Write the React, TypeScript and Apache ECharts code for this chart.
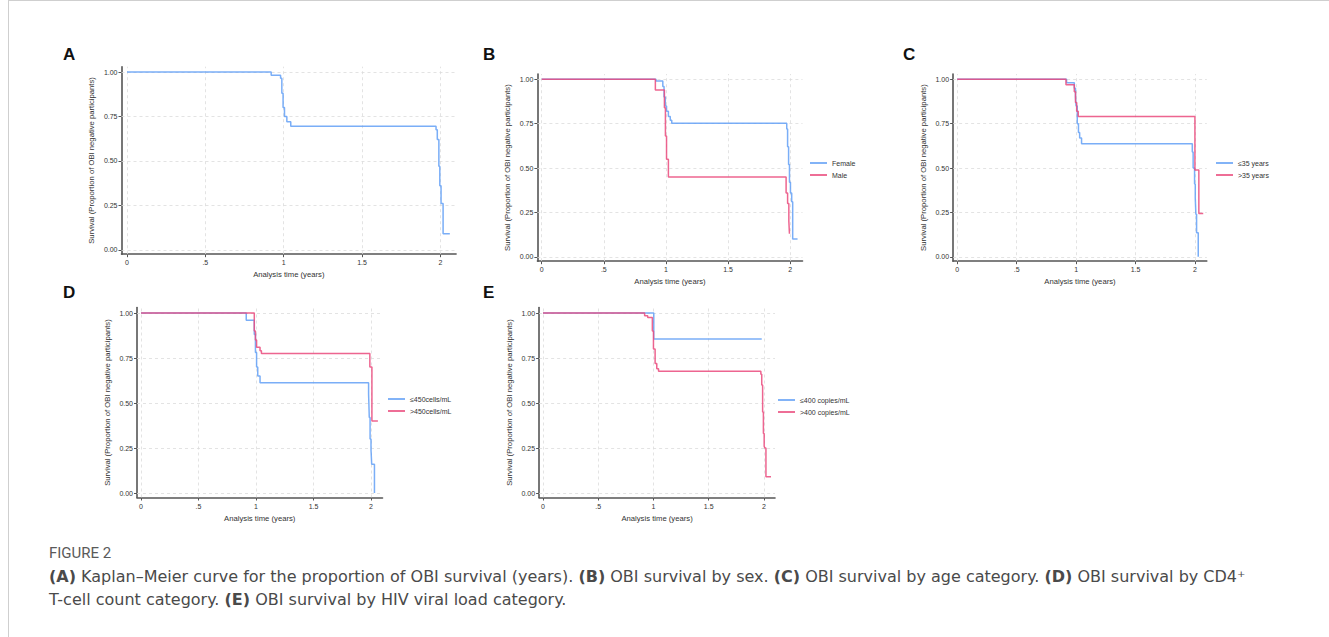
import React, { useEffect, useRef } from "react";
import * as echarts from "echarts";

// ---------- tick labels ----------
const xTickValues = [0, 0.5, 1, 1.5, 2];
const xTickLabels = ["0", ".5", "1", "1.5", "2"];
const yTickValues = [0, 0.25, 0.5, 0.75, 1];
const yTickLabels = ["0.00", "0.25", "0.50", "0.75", "1.00"];

// ---------- Panel A: overall ----------
const aTime = [0, 0.92, 0.98, 0.988, 0.996, 1.005, 1.02, 1.045, 1.972, 1.98, 1.99, 1.996, 2.004, 2.017, 2.06];
const aSurv = [1, 0.982, 0.965, 0.88, 0.8, 0.75, 0.72, 0.695, 0.675, 0.62, 0.47, 0.36, 0.26, 0.09, 0.09];

// ---------- Panel B: sex ----------
const bFemaleTime = [0, 0.92, 0.975, 0.985, 0.995, 1.005, 1.02, 1.035, 1.047, 1.973, 1.98, 1.988, 1.995, 2.003, 2.013, 2.021, 2.06];
const bFemaleSurv = [1, 0.99, 0.96, 0.9, 0.85, 0.82, 0.79, 0.77, 0.752, 0.72, 0.62, 0.52, 0.42, 0.36, 0.31, 0.1, 0.1];
const bMaleTime = [0, 0.915, 0.988, 0.996, 1.005, 1.02, 1.968, 1.98, 1.99, 1.995, 1.998];
const bMaleSurv = [1, 0.94, 0.84, 0.68, 0.55, 0.45, 0.36, 0.3, 0.2, 0.13, 0.13];

// ---------- Panel C: age ----------
const cYoungTime = [0, 0.92, 0.985, 0.995, 1.0, 1.01, 1.02, 1.03, 1.046, 1.978, 1.985, 1.997, 2.003, 2.008, 2.014, 2.028];
const cYoungSurv = [1, 0.98, 0.95, 0.9, 0.85, 0.75, 0.7, 0.67, 0.637, 0.59, 0.5, 0.41, 0.33, 0.24, 0.135, 0];
const cOldTime = [0, 0.915, 0.985, 0.995, 1.005, 1.018, 2.0, 2.033, 2.07];
const cOldSurv = [1, 0.97, 0.93, 0.87, 0.82, 0.79, 0.489, 0.244, 0.244];

// ---------- Panel D: CD4 count ----------
const dLowTime = [0, 0.915, 0.985, 0.995, 1.005, 1.015, 1.035, 1.979, 1.985, 1.992, 2.0, 2.006, 2.03];
const dLowSurv = [1, 0.96, 0.88, 0.78, 0.7, 0.65, 0.612, 0.55, 0.42, 0.3, 0.24, 0.16, 0];
const dHighTime = [0, 0.985, 0.995, 1.005, 1.035, 1.047, 1.99, 2.008, 2.06];
const dHighSurv = [1, 0.9, 0.85, 0.81, 0.79, 0.775, 0.7, 0.4, 0.4];

// ---------- Panel E: HIV viral load ----------
const eLowTime = [0, 1.003, 1.98];
const eLowSurv = [1, 0.855, 0.855];
const eHighTime = [0, 0.92, 0.948, 0.99, 1.0, 1.015, 1.03, 1.046, 1.972, 1.98, 1.988, 1.995, 2.002, 2.008, 2.018, 2.064];
const eHighSurv = [1, 0.985, 0.975, 0.9, 0.8, 0.72, 0.69, 0.677, 0.66, 0.6, 0.45, 0.33, 0.26, 0.25, 0.09, 0.09];

const BLUE = "#63A0F6";
const PINK = "#EA4A7C";
const AXIS_FONT = "'Liberation Sans', Arial, sans-serif";
const CAPTION_FONT = "'DejaVu Sans', 'Open Sans', sans-serif";

const zip = (t: number[], s: number[]) => t.map((v, i) => [v, s[i]]);

type Group = { name: string; time: number[]; surv: number[]; color: string };
type Panel = {
  letter: string;
  letterX: number;
  letterY: number;
  grid: { left: number; top: number; width: number; height: number };
  groups: Group[];
  legend?: { left: number; top: number };
};

const panels: Panel[] = [
  {
    letter: "A", letterX: 63, letterY: 54,
    grid: { left: 121.5, top: 66.7, width: 334.6, height: 187.5 },
    groups: [{ name: "All participants", time: aTime, surv: aSurv, color: BLUE }],
  },
  {
    letter: "B", letterX: 483, letterY: 54,
    grid: { left: 537.4, top: 74.0, width: 265.1, height: 187.2 },
    groups: [
      { name: "Female", time: bFemaleTime, surv: bFemaleSurv, color: BLUE },
      { name: "Male", time: bMaleTime, surv: bMaleSurv, color: PINK },
    ],
    legend: { left: 810, top: 158.5 },
  },
  {
    letter: "C", letterX: 903, letterY: 54,
    grid: { left: 953.1, top: 74.0, width: 253.7, height: 187.2 },
    groups: [
      { name: "≤35 years", time: cYoungTime, surv: cYoungSurv, color: BLUE },
      { name: ">35 years", time: cOldTime, surv: cOldSurv, color: PINK },
    ],
    legend: { left: 1216, top: 158.5 },
  },
  {
    letter: "D", letterX: 63, letterY: 292,
    grid: { left: 137, top: 307.6, width: 245.5, height: 189.9 },
    groups: [
      { name: "≤450cells/mL", time: dLowTime, surv: dLowSurv, color: BLUE },
      { name: ">450cells/mL", time: dHighTime, surv: dHighSurv, color: PINK },
    ],
    legend: { left: 388, top: 394.5 },
  },
  {
    letter: "E", letterX: 483, letterY: 292,
    grid: { left: 539.1, top: 307.6, width: 235.9, height: 189.9 },
    groups: [
      { name: "≤400 copies/mL", time: eLowTime, surv: eLowSurv, color: BLUE },
      { name: ">400 copies/mL", time: eHighTime, surv: eHighSurv, color: PINK },
    ],
    legend: { left: 778, top: 395.5 },
  },
];

const labelFor = (vals: number[], labels: string[]) => (v: number) => {
  const k = vals.findIndex((t) => Math.abs(t - v) < 1e-9);
  return k >= 0 ? labels[k] : "";
};

function buildOption() {
  const grid = panels.map((p) => ({ ...p.grid, containLabel: false, outerBoundsMode: "none" }));
  const xAxis = panels.map((_, i) => ({
    type: "value",
    gridIndex: i,
    min: -0.035,
    max: 2.1,
    axisLine: { show: true, onZero: false, lineStyle: { color: "#555", width: 1.6 } },
    axisTick: { show: true, length: 3, customValues: xTickValues, lineStyle: { color: "#555", width: 1 } },
    axisLabel: {
      customValues: xTickValues,
      formatter: labelFor(xTickValues, xTickLabels),
      fontSize: 7, color: "#333", margin: 5, fontFamily: AXIS_FONT,
    },
    splitLine: { show: false },
    name: "Analysis time (years)",
    nameLocation: "middle",
    nameGap: 16.5,
    nameTextStyle: { fontSize: 7.7, color: "#333", fontFamily: AXIS_FONT },
  }));
  const yAxis = panels.map((_, i) => ({
    type: "value",
    gridIndex: i,
    min: -0.025,
    max: 1.03,
    axisLine: { show: true, onZero: false, lineStyle: { color: "#555", width: 1.6 } },
    axisTick: { show: true, length: 3, customValues: yTickValues, lineStyle: { color: "#555", width: 1 } },
    axisLabel: {
      customValues: yTickValues,
      formatter: labelFor(yTickValues, yTickLabels),
      fontSize: 7, color: "#333", margin: 4, fontFamily: AXIS_FONT,
    },
    splitLine: { show: false },
    name: "Survival (Proportion of OBI negative participants)",
    nameLocation: "middle",
    nameRotate: 90,
    nameGap: 26,
    nameTextStyle: { fontSize: 7.7, color: "#333", fontFamily: AXIS_FONT },
  }));

  const series: any[] = [];
  panels.forEach((p, i) => {
    p.groups.forEach((g, j) => {
      const s: any = {
        type: "line",
        name: g.name,
        xAxisIndex: i,
        yAxisIndex: i,
        data: zip(g.time, g.surv),
        step: "end",
        showSymbol: false,
        symbol: "none",
        silent: true,
        z: 3,
        color: g.color,
        lineStyle: { width: 1.5, color: g.color, opacity: 0.85 },
        itemStyle: { color: g.color },
      };
      if (j === 0) {
        s.markLine = {
          silent: true,
          symbol: "none",
          z: 1,
          animation: false,
          label: { show: false },
          lineStyle: { color: "#dcdcdc", type: [3, 3], width: 0.8 },
          data: [
            ...xTickValues.map((v) => ({ xAxis: v })),
            ...yTickValues.map((v) => ({ yAxis: v })),
          ],
        };
      }
      series.push(s);
    });
  });

  const legend = panels
    .filter((p) => p.legend)
    .map((p) => ({
      show: true,
      orient: "vertical",
      left: p.legend!.left,
      top: p.legend!.top,
      padding: 0,
      itemGap: 3,
      itemWidth: 17,
      itemHeight: 1.6,
      icon: "rect",
      selectedMode: false,
      data: p.groups.map((g) => g.name),
      textStyle: { fontSize: 7, color: "#333", fontFamily: AXIS_FONT, lineHeight: 9 },
    }));

  const CAP_SIZE = 16;
  const captionRich = { b: { fontWeight: "bold", fontSize: CAP_SIZE, fontFamily: CAPTION_FONT, fill: "#4a4a4a" } };

  const graphic: any[] = [
    { type: "line", shape: { x1: 8.5, y1: 0, x2: 8.5, y2: 637 }, style: { stroke: "#cfcfcf", lineWidth: 1 } },
    { type: "line", shape: { x1: 8, y1: 0.5, x2: 1329, y2: 0.5 }, style: { stroke: "#cfcfcf", lineWidth: 1 } },
    ...panels.map((p) => ({
      type: "text",
      x: p.letterX,
      y: p.letterY,
      style: {
        text: p.letter, fontSize: 17, fontWeight: "bold", fontFamily: AXIS_FONT,
        fill: "#111", verticalAlign: "middle",
      },
    })),
    {
      type: "text", x: 49, y: 553,
      style: {
        text: "FIGURE 2", fontSize: 15, fontFamily: "'Liberation Sans Narrow', 'Roboto', sans-serif",
        fill: "#5a5a5a", verticalAlign: "middle",
      },
    },
    {
      type: "text", x: 49, y: 576,
      style: {
        text:
          "{b|(A)} Kaplan–Meier curve for the proportion of OBI survival (years). {b|(B)} OBI survival by sex. {b|(C)} OBI survival by age category. {b|(D)} OBI survival by CD4⁺",
        fontSize: CAP_SIZE, fontFamily: CAPTION_FONT, fill: "#4a4a4a", verticalAlign: "middle",
        rich: captionRich,
      },
    },
    {
      type: "text", x: 49, y: 599,
      style: {
        text: "T-cell count category. {b|(E)} OBI survival by HIV viral load category.",
        fontSize: CAP_SIZE, fontFamily: CAPTION_FONT, fill: "#4a4a4a", verticalAlign: "middle",
        rich: captionRich,
      },
    },
  ];

  return {
    animation: false,
    backgroundColor: "#ffffff",
    grid,
    xAxis,
    yAxis,
    legend,
    series,
    graphic,
  };
}

export default function App() {
  const ref = useRef<HTMLDivElement>(null);
  useEffect(() => {
    if (!ref.current) return;
    const chart = echarts.init(ref.current, undefined, { renderer: "svg" });
    chart.setOption(buildOption() as any);
    return () => chart.dispose();
  }, []);
  return (
    <div
      ref={ref}
      style={{ position: "fixed", left: 0, top: 0, width: 1329, height: 637, background: "#fff" }}
    />
  );
}
